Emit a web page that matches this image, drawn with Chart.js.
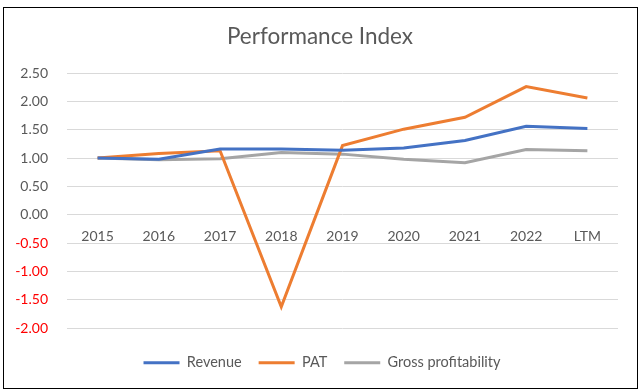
<!DOCTYPE html>
<html>
<head>
<meta charset="utf-8">
<script src="https://cdn.jsdelivr.net/npm/chart.js@4.4.1/dist/chart.umd.min.js"></script>
<style>
    html, body { margin: 0; padding: 0; background: #fff; }
    #wrap { position: absolute; left: 0; top: 0; width: 640px; height: 392px; }
    #frame { position: absolute; left: 3px; top: 7px; width: 633px; height: 380px; border: 1px solid #000; pointer-events: none; }
</style>
</head>
<body>
<div id="wrap"><canvas id="perfChart" width="640" height="392"></canvas></div>
<div id="frame"></div>
<script>
// chart data
var years = ['2015', '2016', '2017', '2018', '2019', '2020', '2021', '2022', 'LTM'];
var revenue = [1.00, 0.98, 1.16, 1.16, 1.14, 1.18, 1.31, 1.56, 1.52];
var pat = [1.00, 1.08, 1.13, -1.62, 1.22, 1.51, 1.72, 2.26, 2.06];
var grossProfitability = [1.00, 0.97, 0.99, 1.10, 1.07, 0.98, 0.92, 1.15, 1.13];
var yTicks = [-2.0, -1.5, -1.0, -0.5, 0.0, 0.5, 1.0, 1.5, 2.0, 2.5];

var textGrey = '#595959';
var baseFont = 'Lato, "Open Sans", sans-serif';

function makeSet(label, values, color) {
    return {
        label: label,
        data: values,
        borderColor: color,
        backgroundColor: color,
        borderWidth: 3,
        pointRadius: 0,
        tension: 0,
        fill: false
    };
}

// nudge title and legend so they sit centred on the frame like the original
var centerShift = {
    id: 'centerShift',
    afterLayout: function (c) {
        c.titleBlock.left += 6;
        c.titleBlock.right += 6;
        c.legend.left += 8;
        c.legend.right += 8;
    }
};

var ctx = document.getElementById('perfChart').getContext('2d');
var chart = new Chart(ctx, {
    type: 'line',
    data: {
        labels: years,
        datasets: [
            makeSet('Revenue', revenue, '#4472C4'),
            makeSet('PAT', pat, '#ED7D31'),
            makeSet('Gross profitability', grossProfitability, '#A5A5A5')
        ]
    },
    plugins: [centerShift],
    options: {
        responsive: false,
        animation: false,
        layout: {
            padding: { left: 10, right: 22, top: 9, bottom: 12 }
        },
        scales: {
            x: {
                type: 'category',
                offset: true,
                position: { y: 0 },
                grid: { display: false },
                border: { display: false },
                ticks: {
                    color: textGrey,
                    font: { family: baseFont, size: 14 },
                    padding: 5,
                    maxRotation: 0
                }
            },
            y: {
                min: -2,
                max: 2.5,
                afterBuildTicks: function (axis) {
                    axis.ticks = yTicks.map(function (v) { return { value: v }; });
                },
                afterFit: function (axis) {
                    // fixed width so the plot starts where the original does
                    axis.width = 57;
                },
                grid: { color: '#D9D9D9', lineWidth: 1, drawTicks: false },
                border: { display: false },
                ticks: {
                    padding: 19,
                    font: { family: baseFont, size: 14 },
                    color: function (c) {
                        return c.tick.value < 0 ? '#FF0000' : textGrey;
                    },
                    callback: function (value) {
                        return value.toFixed(2);
                    }
                }
            }
        },
        plugins: {
            title: {
                display: true,
                text: 'Performance Index',
                color: textGrey,
                font: { family: baseFont, size: 22.5, weight: 'normal' },
                padding: { top: 14, bottom: 23 }
            },
            legend: {
                position: 'bottom',
                title: {
                    display: true,
                    text: ' ',
                    font: { size: 8.5 },
                    padding: 0
                },
                labels: {
                    color: textGrey,
                    font: { family: baseFont, size: 14.5 },
                    boxWidth: 36,
                    boxHeight: 3,
                    padding: 17,
                    generateLabels: function (c) {
                        return c.data.datasets.map(function (ds, i) {
                            return {
                                text: ds.label,
                                fillStyle: ds.borderColor,
                                strokeStyle: ds.borderColor,
                                lineWidth: 0,
                                fontColor: textGrey,
                                datasetIndex: i
                            };
                        });
                    }
                }
            },
            tooltip: { enabled: false }
        }
    }
});
</script>
</body>
</html>
